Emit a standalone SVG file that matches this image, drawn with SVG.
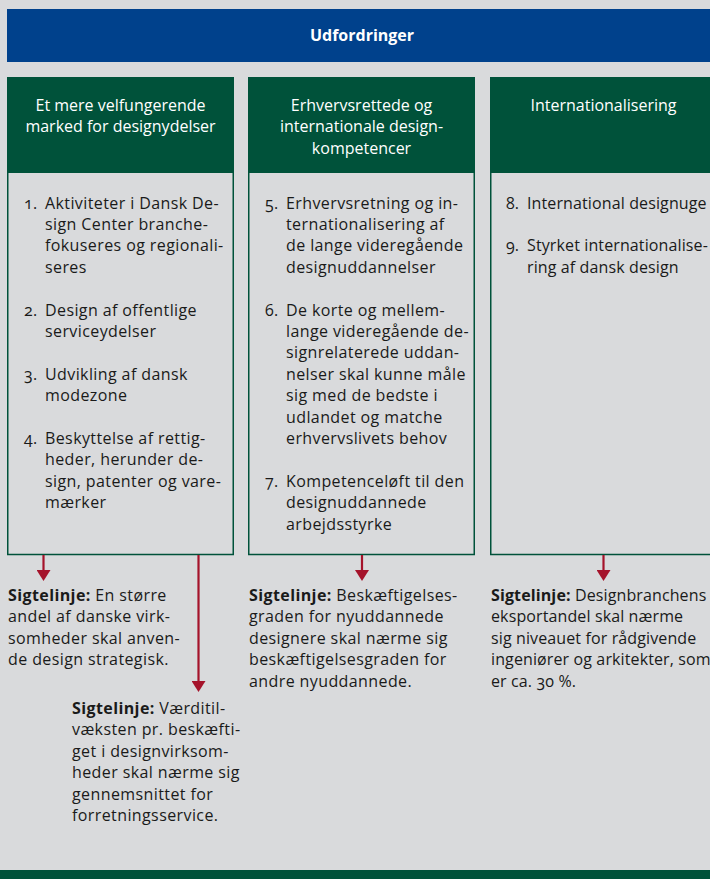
<svg xmlns="http://www.w3.org/2000/svg" width="710" height="879" viewBox="0 0 710 879">
<defs>
<style>
.bg{fill:#d9dadc}
.hdr{fill:#00523a}
.body{fill:none;stroke:#00523a;stroke-width:1.5}
.t{font-family:"Open Sans","Noto Sans",sans-serif;font-size:16px;letter-spacing:0.4px;fill:#1a1a1a;font-feature-settings:"onum"}
.t3{letter-spacing:0.12px}
.h{font-family:"Open Sans","Noto Sans",sans-serif;font-size:16px;fill:#ffffff;text-anchor:middle}
.top{font-family:"Open Sans","Noto Sans",sans-serif;font-size:16px;font-weight:bold;fill:#ffffff;text-anchor:middle}
.b{font-weight:bold}
.arr{stroke:#a5132b;stroke-width:2.2;fill:none;marker-end:url(#ah)}
</style>
<marker id="ah" viewBox="0 0 11 14" refX="5" refY="7" markerWidth="11" markerHeight="14" markerUnits="userSpaceOnUse" orient="auto">
<path d="M0,0 L11,7 L0,14 Z" fill="#a5132b"/>
</marker>
</defs>
<rect class="bg" x="0" y="0" width="710" height="879"/>

<g id="udfordringer">
<rect x="7" y="9" width="710" height="53" fill="#00418c"/>
<text class="top" x="362" y="41">Udfordringer</text>
</g>

<g id="col1">
<rect class="body" x="7.75" y="172" width="225.5" height="382.5"/>
<rect class="hdr" x="7" y="77" width="227" height="96"/>
<text class="h" x="120.5" y="110.5">Et mere velfungerende</text>
<text class="h" x="120.5" y="132">marked for designydelser</text>
<text class="t">
<tspan x="24" y="208.5">1.</tspan><tspan x="45" y="208.5">Aktiviteter i Dansk De-</tspan>
<tspan x="45" y="229.9">sign Center branche-</tspan>
<tspan x="45" y="251.3">fokuseres og regionali-</tspan>
<tspan x="45" y="272.7">seres</tspan>
<tspan x="24" y="315.5">2.</tspan><tspan x="45" y="315.5">Design af offentlige</tspan>
<tspan x="45" y="336.9">serviceydelser</tspan>
<tspan x="24" y="379.7">3.</tspan><tspan x="45" y="379.7">Udvikling af dansk</tspan>
<tspan x="45" y="401.1">modezone</tspan>
<tspan x="24" y="443.9">4.</tspan><tspan x="45" y="443.9">Beskyttelse af rettig-</tspan>
<tspan x="45" y="465.3">heder, herunder de-</tspan>
<tspan x="45" y="486.7">sign, patenter og vare-</tspan>
<tspan x="45" y="508.1">mærker</tspan>
</text>
</g>

<g id="col2">
<rect class="body" x="248.75" y="172" width="225.5" height="382.5"/>
<rect class="hdr" x="248" y="77" width="227" height="96"/>
<text class="h" x="361.5" y="110.5">Erhvervsrettede og</text>
<text class="h" x="361.5" y="132">internationale design-</text>
<text class="h" x="361.5" y="153.5">kompetencer</text>
<text class="t">
<tspan x="265" y="208.5">5.</tspan><tspan x="286" y="208.5">Erhvervsretning og in-</tspan>
<tspan x="286" y="229.9">ternationalisering af</tspan>
<tspan x="286" y="251.3">de lange videregående</tspan>
<tspan x="286" y="272.7">designuddannelser</tspan>
<tspan x="265" y="315.5">6.</tspan><tspan x="286" y="315.5">De korte og mellem-</tspan>
<tspan x="286" y="336.9">lange videregående de-</tspan>
<tspan x="286" y="358.3">signrelaterede uddan-</tspan>
<tspan x="286" y="379.7">nelser skal kunne måle</tspan>
<tspan x="286" y="401.1">sig med de bedste i</tspan>
<tspan x="286" y="422.5">udlandet og matche</tspan>
<tspan x="286" y="443.9">erhvervslivets behov</tspan>
<tspan x="265" y="486.7">7.</tspan><tspan x="286" y="486.7">Kompetenceløft til den</tspan>
<tspan x="286" y="508.1">designuddannede</tspan>
<tspan x="286" y="529.5">arbejdsstyrke</tspan>
</text>
</g>

<g id="col3">
<rect class="body" x="490.75" y="172" width="225.5" height="382.5"/>
<rect class="hdr" x="490" y="77" width="227" height="96"/>
<text class="h" x="603.5" y="110.5">Internationalisering</text>
<text class="t t3">
<tspan x="506" y="208.5">8.</tspan><tspan x="527" y="208.5">International designuge</tspan>
<tspan x="506" y="251.3">9.</tspan><tspan x="527" y="251.3">Styrket internationalise-</tspan>
<tspan x="527" y="272.7">ring af dansk design</tspan>
</text>
</g>

<g id="connectors">
<line class="arr" x1="43.5" y1="555" x2="43.5" y2="575"/>
<line class="arr" x1="198.5" y1="555" x2="198.5" y2="686"/>
<line class="arr" x1="362" y1="555" x2="362" y2="575"/>
<line class="arr" x1="603.5" y1="555" x2="603.5" y2="575"/>
</g>

<g id="sigte1">
<text class="t">
<tspan x="8" y="601"><tspan class="b">Sigtelinje:</tspan> En større</tspan>
<tspan x="8" y="622.4">andel af danske virk-</tspan>
<tspan x="8" y="643.8">somheder skal anven-</tspan>
<tspan x="8" y="665.2">de design strategisk.</tspan>
</text>
</g>

<g id="sigte2">
<text class="t">
<tspan x="72" y="714"><tspan class="b">Sigtelinje:</tspan> Værditil-</tspan>
<tspan x="72" y="735.4">væksten pr. beskæfti-</tspan>
<tspan x="72" y="756.8">get i designvirksom-</tspan>
<tspan x="72" y="778.2">heder skal nærme sig</tspan>
<tspan x="72" y="799.6">gennemsnittet for</tspan>
<tspan x="72" y="821">forretningsservice.</tspan>
</text>
</g>

<g id="sigte3">
<text class="t">
<tspan x="249" y="601"><tspan class="b">Sigtelinje:</tspan> Beskæftigelses-</tspan>
<tspan x="249" y="622.4">graden for nyuddannede</tspan>
<tspan x="249" y="643.8">designere skal nærme sig</tspan>
<tspan x="249" y="665.2">beskæftigelsesgraden for</tspan>
<tspan x="249" y="686.6">andre nyuddannede.</tspan>
</text>
</g>

<g id="sigte4">
<text class="t t3">
<tspan x="491" y="601"><tspan class="b">Sigtelinje:</tspan> Designbranchens</tspan>
<tspan x="491" y="622.4">eksportandel skal nærme</tspan>
<tspan x="491" y="643.8">sig niveauet for rådgivende</tspan>
<tspan x="491" y="665.2">ingeniører og arkitekter, som</tspan>
<tspan x="491" y="686.6">er ca. 30 %.</tspan>
</text>
</g>

<rect id="bottombar" x="0" y="870" width="710" height="9" fill="#00523a"/>
</svg>
